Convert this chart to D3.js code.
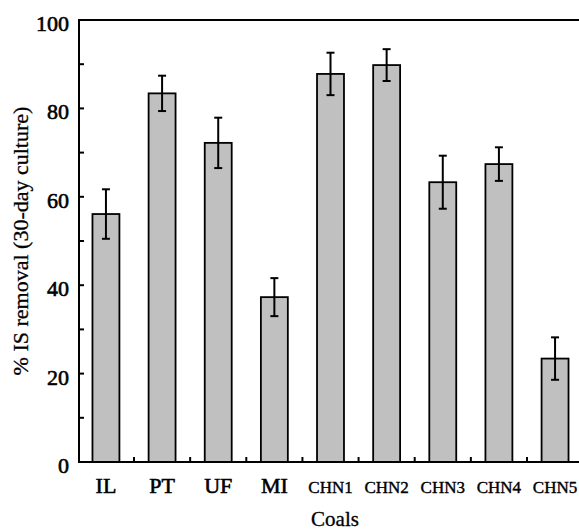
<!DOCTYPE html>
<html>
<head>
<meta charset="utf-8">
<script src="https://cdn.jsdelivr.net/npm/d3@7"></script>
<style>
  body { margin: 0; background: #fff; }
  svg text { font-family: "Liberation Serif", "Times New Roman", serif; fill: #000; }
</style>
</head>
<body>
<svg id="chart" width="579" height="530"></svg>
<script>
const coals = ["IL", "PT", "UF", "MI", "CHN1", "CHN2", "CHN3", "CHN4", "CHN5"];
const removal = [56.1, 83.4, 72.2, 37.3, 87.8, 89.8, 63.3, 67.4, 23.4];
const errors = [5.6, 4.0, 5.7, 4.3, 4.8, 3.6, 6.0, 3.8, 4.8];
const yTicks = [0, 20, 40, 60, 80, 100];
const yMinor = [10, 30, 50, 70, 90];

const svg = d3.select("#chart");
const margin = { top: 20, left: 79 };
const plotRight = 582, plotBottom = 462;

const x = d3.scaleBand()
    .domain(coals)
    .range([margin.left, plotRight])
    .paddingInner(0.52)
    .paddingOuter(0.24);

const y = d3.scaleLinear()
    .domain([0, 100])
    .range([plotBottom, margin.top]);

// bars
svg.append("g")
    .selectAll("rect")
    .data(coals)
    .join("rect")
    .attr("x", d => x(d))
    .attr("y", (d, i) => y(removal[i]))
    .attr("width", x.bandwidth())
    .attr("height", (d, i) => plotBottom - y(removal[i]))
    .attr("fill", "#c0c0c0")
    .attr("stroke", "#000")
    .attr("stroke-width", 1.8);

// error bars
const err = svg.append("g").attr("stroke", "#000").attr("stroke-width", 2);
coals.forEach((c, i) => {
    const cx = x(c) + x.bandwidth() / 2;
    const hi = y(removal[i] + errors[i]), lo = y(removal[i] - errors[i]);
    err.append("line").attr("x1", cx).attr("x2", cx).attr("y1", hi).attr("y2", lo);
    err.append("line").attr("x1", cx - 4).attr("x2", cx + 4).attr("y1", hi).attr("y2", hi);
    err.append("line").attr("x1", cx - 4).attr("x2", cx + 4).attr("y1", lo).attr("y2", lo);
});

// frame
svg.append("rect")
    .attr("x", margin.left)
    .attr("y", margin.top)
    .attr("width", plotRight - margin.left)
    .attr("height", plotBottom - margin.top)
    .attr("fill", "none")
    .attr("stroke", "#000")
    .attr("stroke-width", 2);

// y ticks (inward)
const yt = svg.append("g").attr("stroke", "#000").attr("stroke-width", 2);
yTicks.concat(yMinor).forEach(v => {
    yt.append("line")
        .attr("x1", margin.left).attr("x2", margin.left + 5)
        .attr("y1", y(v)).attr("y2", y(v));
});

svg.append("g")
    .selectAll("text")
    .data(yTicks)
    .join("text")
    .attr("x", 69)
    .attr("y", d => y(d))
    .attr("dy", "0.5em")
    .attr("text-anchor", "end")
    .attr("font-size", 22)
    .attr("stroke", "#000")
    .attr("stroke-width", 0.6)
    .text(d => d);

// x ticks between bars (inward)
const xt = svg.append("g").attr("stroke", "#000").attr("stroke-width", 2);
coals.slice(1).forEach(c => {
    const tx = x(c) - x.step() * x.paddingInner() / 2;
    xt.append("line")
        .attr("x1", tx).attr("x2", tx)
        .attr("y1", plotBottom).attr("y2", plotBottom - 5);
});

svg.append("g")
    .selectAll("text")
    .data(coals)
    .join("text")
    .attr("x", d => x(d) + x.bandwidth() / 2)
    .attr("y", 493)
    .attr("text-anchor", "middle")
    .attr("font-size", d => d.startsWith("CHN") ? 17 : 22)
    .attr("stroke", "#000")
    .attr("stroke-width", d => d.startsWith("CHN") ? 0.4 : 0.6)
    .text(d => d);

svg.append("text")
    .attr("x", 335)
    .attr("y", 526)
    .attr("text-anchor", "middle")
    .attr("font-size", 21)
    .attr("stroke", "#000")
    .attr("stroke-width", 0.3)
    .text("Coals");

svg.append("text")
    .attr("transform", `translate(28,${(margin.top + plotBottom) / 2}) rotate(-90)`)
    .attr("text-anchor", "middle")
    .attr("font-size", 22)
    .attr("stroke", "#000")
    .attr("stroke-width", 0.3)
    .text("% IS removal (30-day culture)");
</script>
</body>
</html>
